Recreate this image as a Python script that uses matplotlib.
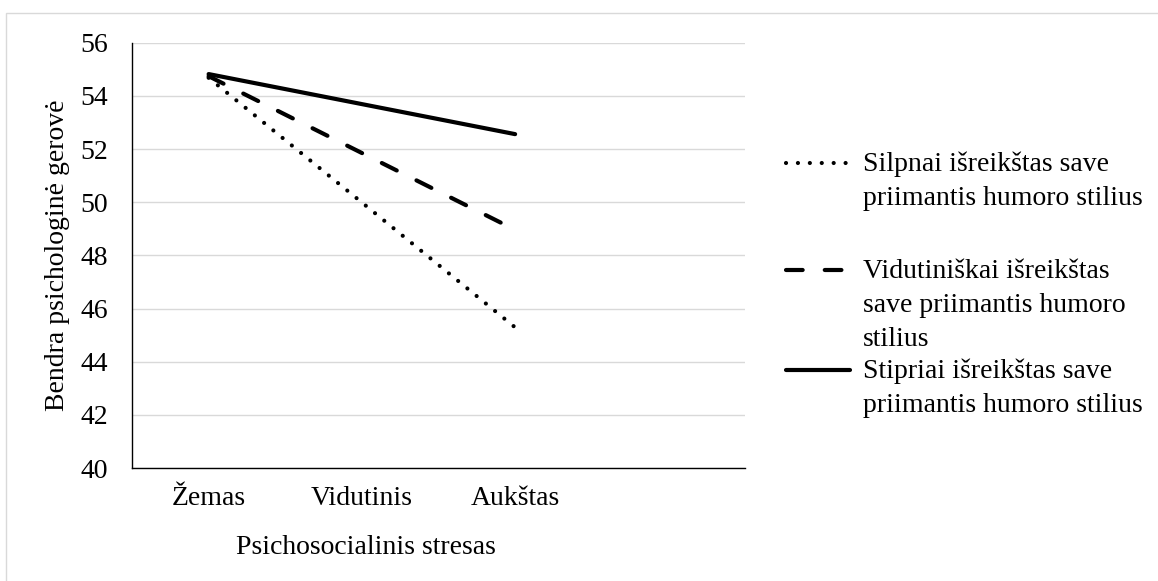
import matplotlib
matplotlib.use('Agg')
import matplotlib.pyplot as plt
from matplotlib.lines import Line2D
from matplotlib.patches import Rectangle

# data
categories = ['Žemas', 'Vidutinis', 'Aukštas']
weak = [54.68, 49.99, 45.29]
moderate = [54.74, 51.85, 48.96]
strong = [54.82, 53.69, 52.56]
yticks = [40, 42, 44, 46, 48, 50, 52, 54, 56]

legend_labels = [
    ['Silpnai išreikštas save', 'priimantis humoro stilius'],
    ['Vidutiniškai išreikštas', 'save priimantis humoro', 'stilius'],
    ['Stipriai išreikštas save', 'priimantis humoro stilius'],
]

W, H = 1158, 581
plt.rcParams['font.family'] = ['Liberation Serif', 'DejaVu Serif']
FS = 20

LW = 3.0
dotted = (0, (0.01, 2.85))
dashed = (0, (4.0, 5.3))

fig = plt.figure(figsize=(W / 100, H / 100), dpi=100)
fig.patch.set_facecolor('white')

# outer chart border
fig.add_artist(Rectangle((6 / W, -0.1), 1.2, 1 - 13 / H + 0.1, transform=fig.transFigure,
                         fill=False, edgecolor='#d9d9d9', lw=1.0))

left, right, top, bottom = 132, 745, 42.7, 468
ax = fig.add_axes([left / W, 1 - bottom / H, (right - left) / W, (bottom - top) / H])

x = list(range(len(categories)))
ax.plot(x, weak, color='black', lw=LW, linestyle=dotted, dash_capstyle='round', zorder=3)
ax.plot(x, moderate, color='black', lw=LW, linestyle=dashed, dash_capstyle='round', zorder=3)
ax.plot(x, strong, color='black', lw=LW, solid_capstyle='round', zorder=3)

ax.set_xlim(-0.5, 3.5)
ax.set_ylim(40, 56)
ax.set_yticks(yticks)
ax.set_yticklabels([str(v) for v in yticks], fontsize=FS)
ax.set_xticks(x)
ax.set_xticklabels(categories, fontsize=FS)
ax.tick_params(axis='y', length=0, pad=17)
ax.tick_params(axis='x', length=0, pad=13)
ax.grid(axis='y', color='#d9d9d9', lw=1.0)
ax.set_axisbelow(True)
for s in ['top', 'right']:
    ax.spines[s].set_visible(False)
ax.spines['left'].set_color('black')
ax.spines['bottom'].set_color('black')
ax.spines['left'].set_linewidth(1.0)
ax.spines['bottom'].set_linewidth(1.0)

ax.set_ylabel('Bendra psichologinė gerovė', fontsize=FS)
ax.yaxis.set_label_coords((58 - left) / (right - left), 0.5)
ax.yaxis.label.set_verticalalignment('center')
ax.set_xlabel('Psichosocialinis stresas', fontsize=FS)
ax.xaxis.set_label_coords((366 - left) / (right - left), -(547 - bottom) / (bottom - top))
ax.xaxis.label.set_verticalalignment('center')

# legend drawn by hand: handle level with the first text line
styles = [dict(linestyle=dotted, dash_capstyle='round'),
          dict(linestyle=dashed, dash_capstyle='round'),
          dict(linestyle='-', solid_capstyle='round')]
first_rows = [163, 270, 370]
row_gap = 34
for lines, y0, st in zip(legend_labels, first_rows, styles):
    fig.add_artist(Line2D([786 / W, 850 / W], [1 - y0 / H, 1 - y0 / H], transform=fig.transFigure,
                          color='black', lw=LW, **st))
    for i, t in enumerate(lines):
        fig.text(863 / W, 1 - (y0 + 8 + i * row_gap) / H, t, fontsize=FS, va='baseline', ha='left')

fig.savefig('out.png', dpi=100)
